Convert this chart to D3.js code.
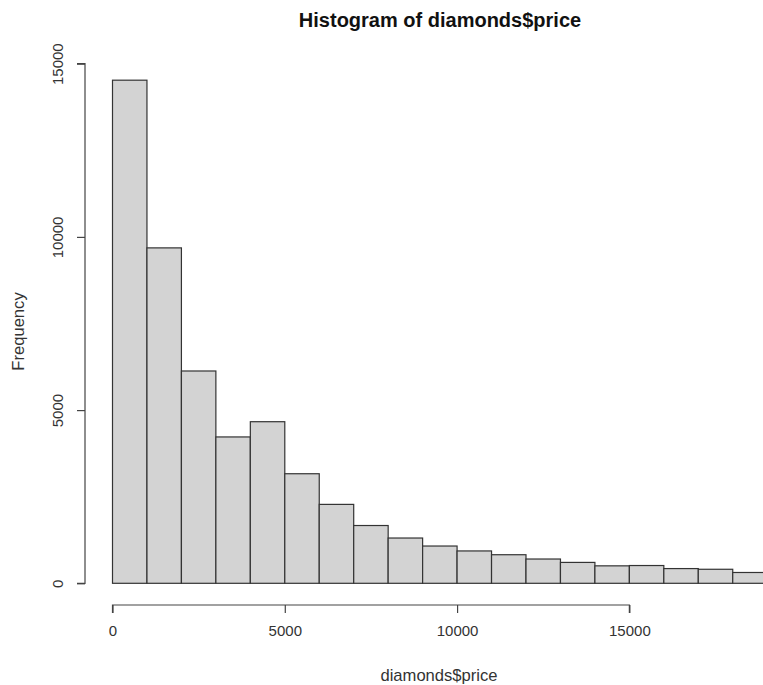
<!DOCTYPE html>
<html>
<head>
<meta charset="utf-8">
<script src="https://cdn.jsdelivr.net/npm/d3@7"></script>
<style>
  html, body { margin: 0; padding: 0; background: #fff; overflow: hidden; }
  svg { display: block; font-family: "Liberation Sans", Arial, sans-serif; }
</style>
</head>
<body>
<svg id="chart" width="763" height="685"></svg>
<script>
// Histogram of diamond prices, bins of width 1000
const binStarts = [0, 1000, 2000, 3000, 4000, 5000, 6000, 7000, 8000, 9000,
                   10000, 11000, 12000, 13000, 14000, 15000, 16000, 17000, 18000];
const binWidth = 1000;
const counts = [14524, 9683, 6129, 4225, 4665, 3163, 2278, 1668, 1307, 1076,
                934, 825, 701, 603, 504, 513, 425, 405, 312];
const xTicks = [0, 5000, 10000, 15000];
const yTicks = [0, 5000, 10000, 15000];

const title = "Histogram of diamonds$price";
const xLabel = "diamonds$price";
const yLabel = "Frequency";

const svg = d3.select("#chart");

// scales: price -> pixels, frequency -> pixels
const x = d3.scaleLinear().domain([0, 19000]).range([112.5, 767.2]);
const y = d3.scaleLinear().domain([0, 15000]).range([583.3, 63.7]);

const bins = binStarts.map((s, i) => ({ x0: s, x1: s + binWidth, n: counts[i] }));

svg.append("g")
  .selectAll("rect")
  .data(bins)
  .join("rect")
  .attr("x", d => x(d.x0))
  .attr("y", d => y(d.n))
  .attr("width", d => x(d.x1) - x(d.x0))
  .attr("height", d => y(0) - y(d.n))
  .attr("fill", "#d3d3d3")
  .attr("stroke", "#333")
  .attr("stroke-width", 1.2);

// x axis
const xAxis = d3.axisBottom(x).tickValues(xTicks).tickSize(8).tickPadding(12)
  .tickFormat(d3.format("d"));
const gx = svg.append("g").attr("transform", "translate(0,605)").call(xAxis);
gx.select(".domain").attr("d", `M${x(0)},8V0H${x(15000)}V8`).attr("stroke", "#444").attr("stroke-width", 1.2);
gx.selectAll(".tick line").attr("stroke", "#444").attr("stroke-width", 1.2);
gx.selectAll(".tick text").attr("font-size", 15).attr("fill", "#333")
  .attr("font-family", "Liberation Sans, Arial, sans-serif");

// y axis
const yAxis = d3.axisLeft(y).tickValues(yTicks).tickSize(8).tickPadding(10)
  .tickFormat(d3.format("d"));
const gy = svg.append("g").attr("transform", "translate(85,0)").call(yAxis);
gy.select(".domain").attr("d", `M-8,${y(15000)}H0V${y(0)}H-8`).attr("stroke", "#444").attr("stroke-width", 1.2);
gy.selectAll(".tick line").attr("stroke", "#444").attr("stroke-width", 1.2);
gy.selectAll(".tick text")
  .attr("font-size", 15).attr("fill", "#333")
  .attr("font-family", "Liberation Sans, Arial, sans-serif")
  .attr("x", null).attr("dy", null)
  .attr("text-anchor", "middle")
  .attr("transform", "translate(-22,0) rotate(-90)");

// title and axis labels
svg.append("text")
  .attr("x", 440).attr("y", 27)
  .attr("text-anchor", "middle")
  .attr("font-size", 20).attr("font-weight", "bold").attr("fill", "#111")
  .text(title);

svg.append("text")
  .attr("x", 439).attr("y", 681)
  .attr("text-anchor", "middle")
  .attr("font-size", 16.6).attr("fill", "#333")
  .text(xLabel);

svg.append("text")
  .attr("transform", "translate(24,331.5) rotate(-90)")
  .attr("text-anchor", "middle")
  .attr("font-size", 16.6).attr("fill", "#333")
  .text(yLabel);
</script>
</body>
</html>
